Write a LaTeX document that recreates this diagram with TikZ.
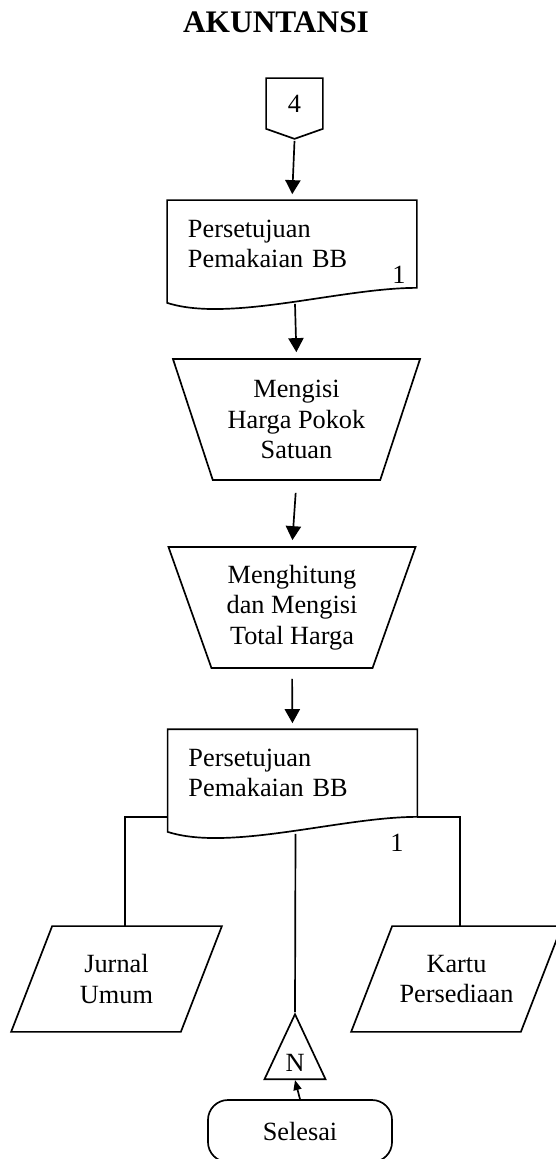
\documentclass[tikz,border=0pt]{standalone}
\usepackage{fontspec}
\setmainfont{Liberation Serif}
\usetikzlibrary{shapes.geometric,arrows.meta}
\begin{document}
\begin{tikzpicture}[x=0.025cm,y=-0.025cm,line width=1.2pt,
    font=\fontsize{18.7}{21.5}\selectfont,
    document/.style ={rectangle, text width=5.2cm, inner xsep=0.5cm, inner ysep=0pt, minimum height=2.15cm, align=left},
    manual/.style ={trapezium, draw, trapezium left angle=63, trapezium right angle=63, shape border rotate=180, trapezium stretches body, minimum width=6.175cm, minimum height=3.025cm, align=center, inner sep=0pt},
    dataio/.style ={rectangle, minimum width=4.2cm, minimum height=2.6cm, align=center, inner sep=0pt},
    terminal/.style ={rectangle, draw, rounded corners=0.5cm, minimum width=4.6cm, minimum height=1.55cm},
    offpage/.style ={rectangle, minimum width=1.375cm, minimum height=1.225cm, inner sep=0pt},
    flow/.style ={-{Triangle[length=0.35cm,width=0.38cm]}, shorten >=0.15cm}]
   \useasboundingbox (0,0) rectangle (555,1159);
   \node[font=\fontsize{22.3}{26}\selectfont\bfseries] (title) at (276,22) {AKUNTANSI};
   % off-page connector
   \node[offpage] (c4) at (294.5,103.5) {4};
   \draw (c4.south west) -- (c4.north west) -- (c4.north east) -- (c4.south east) -- ([shift={(0,10)}]c4.south) -- cycle;
   \coordinate (c4tip) at ([shift={(0,12)}]c4.south);
   % first document
   \node[document] (d1) at (292,244) {Persetujuan\\Pemakaian BB};
   \draw (d1.south east) -- (d1.north east) -- (d1.north west) -- ([shift={(0,15)}]d1.south west) .. controls ([shift={(62,35)}]d1.south west) and ([shift={(-76,0)}]d1.south east) .. (d1.south east) -- cycle;
   \node (d1no) at (399,275) {1};
   \coordinate (d1w) at ([shift={(3,16)}]d1.south);
   \draw[flow] (c4tip) -- (d1.north);
   % manual steps
   \node[manual] (m1) at (296.5,419.5) {Mengisi\\Harga Pokok\\Satuan};
   \node[manual] (m2) at (292,607.5) {Menghitung\\dan Mengisi\\Total Harga};
   \draw[flow] (d1w) -- (m1.north);
   \draw[flow, shorten <=0.3cm] (m1.south) -- (m2.north);
   % second document
   \node[document] (d2) at (292.5,773) {Persetujuan\\Pemakaian BB};
   \draw (d2.south east) -- (d2.north east) -- (d2.north west) -- ([shift={(0,15)}]d2.south west) .. controls ([shift={(62,35)}]d2.south west) and ([shift={(-76,0)}]d2.south east) .. (d2.south east) -- cycle;
   \node (d2no) at (397,843) {1};
   \coordinate (d2w) at ([shift={(3,17)}]d2.south);
   \draw[flow, shorten <=0.25cm] (m2.south) -- (d2.north);
   % outputs
   \node[dataio] (j1) at (116.5,979) {Jurnal\\Umum};
   \draw ([shift={(-20.5,0)}]j1.south west) -- ([shift={(20.5,0)}]j1.north west) -- ([shift={(20.5,0)}]j1.north east) -- ([shift={(-20.5,0)}]j1.south east) -- cycle;
   \node[dataio] (k1) at (456.5,979) {Kartu\\Persediaan};
   \draw ([shift={(-20.5,0)}]k1.south west) -- ([shift={(20.5,0)}]k1.north west) -- ([shift={(20.5,0)}]k1.north east) -- ([shift={(-20.5,0)}]k1.south east) -- cycle;
   \draw (d2.south west) -| ([shift={(8.5,0)}]j1.north);
   \draw (d2.south east) -| ([shift={(3.5,0)}]k1.north);
   % archive and end
   \node[isosceles triangle, draw, shape border rotate=90, isosceles triangle stretches, minimum width=1.525cm, minimum height=1.625cm, inner sep=0pt, anchor=apex] (t1) at (295,1012) {N};
   \node[terminal] (s1) at (300,1131) {Selesai};
   \draw (d2w) -- (t1.apex);
   \draw[-{Triangle[length=0.25cm,width=0.2cm]}] (s1.north) -- (t1.lower side);
\end{tikzpicture}
\end{document}
